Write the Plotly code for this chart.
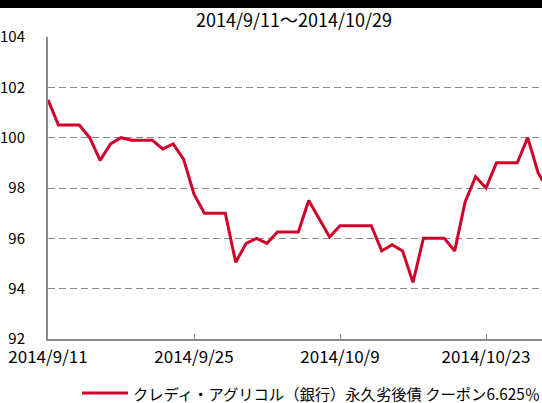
import pandas as pd
import plotly.graph_objects as go

# ---- data ----
start_date = "2014-09-11"
end_date = "2014-10-29"
prices = [101.5, 100.5, 100.5, 100.5, 100.0, 99.1, 99.75, 100.0, 99.9, 99.9,
          99.9, 99.55, 99.75, 99.15, 97.75, 97.0, 97.0, 97.0, 95.05, 95.8,
          96.0, 95.8, 96.25, 96.25, 96.25, 97.5, 96.75, 96.05, 96.5, 96.5,
          96.5, 96.5, 95.5, 95.75, 95.5, 94.25, 96.0, 96.0, 96.0, 95.5,
          97.45, 98.45, 98.0, 99.0, 99.0, 99.0, 100.0, 98.6, 97.9]
tick_dates = ["2014-09-11", "2014-09-25", "2014-10-09", "2014-10-23"]
tick_labels = ["2014/9/11", "2014/9/25", "2014/10/9", "2014/10/23"]
y_ticks = [92, 94, 96, 98, 100, 102, 104]
series_name = "クレディ・アグリコル（銀行）永久劣後債 クーポン6.625％"
title_text = "2014/9/11～2014/10/29"

dates = pd.date_range(start_date, end_date, freq="D")

W, H = 542, 403
L, R, T, B = 48, 0, 37, 64
pw, ph = W - L - R, H - T - B
px_per_day = 146 / 14.0
x_end = pd.Timestamp(start_date) + pd.Timedelta(days=pw / px_per_day)

def px_x(p):
    return (p - L) / pw

def px_y(p):
    return (H - B - p) / ph

FONT = "Noto Sans CJK JP, Noto Sans, sans-serif"
RED = "#d0022c"
GRAY = "#8a8a8a"

fig = go.Figure()
fig.add_trace(go.Scatter(x=dates, y=prices, mode="lines",
                         line=dict(color=RED, width=3), name=series_name,
                         showlegend=False, cliponaxis=True, hoverinfo="skip"))

fig.update_layout(
    width=W, height=H,
    margin=dict(l=L, r=R, t=T, b=B, autoexpand=False),
    paper_bgcolor="white", plot_bgcolor="white",
    font=dict(family=FONT, size=17, color="black"),
    title=dict(text=title_text, xref="paper", x=0.498, xanchor="center",
               yref="container", y=1 - 21 / H, yanchor="middle",
               font=dict(size=18, color="black", family=FONT)),
    xaxis=dict(type="date", range=[pd.Timestamp(start_date), x_end],
               tickvals=pd.to_datetime(tick_dates), ticktext=tick_labels,
               showgrid=False, showline=True, linecolor=GRAY, linewidth=2,
               ticks="inside", ticklen=5, tickcolor=GRAY, tickwidth=1,
               ticklabelstandoff=2, zeroline=False, automargin=False,
               tickfont=dict(size=17, color="black")),
    yaxis=dict(range=[92, 104], tickvals=y_ticks,
               showgrid=True, gridcolor=GRAY, gridwidth=1, griddash="7px,4px",
               showline=True, linecolor=GRAY, linewidth=2, ticks="",
               ticklabelstandoff=18, zeroline=False, automargin=False,
               tickfont=dict(size=15, color="black")),
    shapes=[
        dict(type="rect", xref="paper", yref="paper",
             x0=px_x(-2), x1=px_x(W + 2), y0=px_y(8), y1=px_y(-2),
             fillcolor="black", line=dict(width=0), layer="above"),
        dict(type="line", xref="paper", yref="paper",
             x0=px_x(82), x1=px_x(128), y0=px_y(393), y1=px_y(393),
             line=dict(color=RED, width=3)),
    ],
    annotations=[
        dict(text=series_name, xref="paper", yref="paper",
             x=px_x(131), y=px_y(393), xanchor="left", yanchor="middle",
             showarrow=False, font=dict(size=15.3, color="black", family=FONT)),
    ],
)

fig.write_html(
    "out.html",
    config={"displayModeBar": False},
    post_script="document.body.style.margin='0';",
)
